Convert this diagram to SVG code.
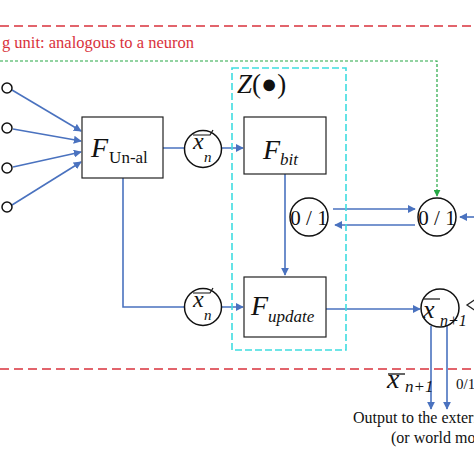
<svg xmlns="http://www.w3.org/2000/svg" width="474" height="474" viewBox="0 0 474 474">
<style>
.red{stroke:#d9323c;stroke-width:1.3;stroke-dasharray:9 5;fill:none}
.cy{stroke:#3fdde0;stroke-width:1.6;stroke-dasharray:7 3;fill:none}
.gr{stroke:#26a845;stroke-width:1.2;stroke-dasharray:3 2;fill:none}
.bl{stroke:#4a72bf;stroke-width:1.6;fill:none}
.box{fill:#fff;stroke:#222;stroke-width:1.2}
.cir{fill:#fff;stroke:#111;stroke-width:1.5}
.t{font-family:"Liberation Serif","DejaVu Serif","Times New Roman",serif;fill:#111}
.i{font-style:italic}
</style>
<defs>
<marker id="ab" viewBox="0 0 10 10" refX="9" refY="5" markerWidth="8" markerHeight="8" markerUnits="userSpaceOnUse" orient="auto"><path d="M0,0 L10,5 L0,10 z" fill="#4a72bf"/></marker>
<marker id="ag" viewBox="0 0 10 10" refX="9" refY="5" markerWidth="7" markerHeight="7" markerUnits="userSpaceOnUse" orient="auto"><path d="M0,0 L10,5 L0,10 z" fill="#26a845"/></marker>
</defs>
<rect width="474" height="474" fill="#fff"/>
<line class="red" x1="0" y1="26" x2="474" y2="26"/>
<line class="red" x1="0" y1="369" x2="474" y2="369"/>
<text class="t" x="194" y="48" font-size="16.5" text-anchor="end" style="fill:#d9323c">g unit: analogous to a neuron</text>
<g id="connectors">
<polyline class="gr" points="0,61 437,61 437,196" marker-end="url(#ag)"/>
<line class="bl" x1="12" y1="90" x2="81" y2="131" marker-end="url(#ab)"/>
<line class="bl" x1="13" y1="129" x2="81" y2="141" marker-end="url(#ab)"/>
<line class="bl" x1="13" y1="167" x2="81" y2="152" marker-end="url(#ab)"/>
<line class="bl" x1="12" y1="205" x2="81" y2="162" marker-end="url(#ab)"/>
<line class="bl" x1="163" y1="148" x2="243" y2="148" marker-end="url(#ab)"/>
<polyline class="bl" points="123,178 123,307 243,307" marker-end="url(#ab)"/>
<line class="bl" x1="285" y1="174" x2="285" y2="275" marker-end="url(#ab)"/>
<line class="bl" x1="333" y1="209" x2="415" y2="209" marker-end="url(#ab)"/>
<line class="bl" x1="415" y1="225" x2="335" y2="225" marker-end="url(#ab)"/>
<line class="bl" x1="480" y1="217" x2="460" y2="217" marker-end="url(#ab)"/>
<line class="bl" x1="326" y1="309" x2="420" y2="309" marker-end="url(#ab)"/>
<polyline fill="none" stroke="#222" stroke-width="1.3" points="476,299 467,305 476,311"/>
<line class="bl" x1="431" y1="326" x2="431" y2="409" marker-end="url(#ab)"/>
<line class="bl" x1="447" y1="326" x2="447" y2="409" marker-end="url(#ab)"/>
</g>
<g id="inputs">
<circle cx="7" cy="88" r="5" fill="#fff" stroke="#111" stroke-width="1.5"/>
<circle cx="7" cy="128" r="5" fill="#fff" stroke="#111" stroke-width="1.5"/>
<circle cx="7" cy="168" r="5" fill="#fff" stroke="#111" stroke-width="1.5"/>
<circle cx="7" cy="207" r="5" fill="#fff" stroke="#111" stroke-width="1.5"/>
</g>
<g id="Z">
<rect class="cy" x="232" y="68" width="114" height="282"/>
<text class="t" x="237" y="93" font-size="27"><tspan class="i">Z</tspan>(●)</text>
</g>
<g id="F_unal">
<rect class="box" x="82" y="117" width="81" height="61"/>
<text class="t" x="91" y="157" font-size="28"><tspan class="i">F</tspan><tspan font-size="17" dx="1" dy="6">Un-al</tspan></text>
</g>
<g id="F_bit">
<rect class="box" x="244" y="117" width="82" height="57"/>
<text class="t i" x="263" y="159" font-size="28">F<tspan font-size="17" dy="6">bit</tspan></text>
</g>
<g id="F_update">
<rect class="box" x="244" y="277" width="82" height="60"/>
<text class="t i" x="251" y="315" font-size="28">F<tspan font-size="17" dy="7">update</tspan></text>
</g>
<g id="xn_top">
<circle class="cir" cx="203" cy="149" r="18.5"/>
<text class="t i" x="193" y="149" font-size="24">x</text>
<text class="t i" x="204" y="162" font-size="15">n</text>
<polyline fill="none" stroke="#111" stroke-width="1.2" points="193,135 210,135 213,130"/>
</g>
<g id="xn_bottom">
<circle class="cir" cx="203" cy="307" r="18.5"/>
<text class="t i" x="193" y="307" font-size="24">x</text>
<text class="t i" x="204" y="320" font-size="15">n</text>
<polyline fill="none" stroke="#111" stroke-width="1.2" points="193,293 210,293 213,288"/>
</g>
<g id="b01_left">
<circle class="cir" cx="309" cy="217" r="19"/>
<text class="t" x="309" y="225" font-size="21" text-anchor="middle">0 / 1</text>
</g>
<g id="b01_right">
<circle class="cir" cx="437" cy="217" r="19"/>
<text class="t" x="437" y="225" font-size="21" text-anchor="middle">0 / 1</text>
</g>
<g id="xn1">
<circle class="cir" cx="440" cy="308" r="19"/>
<text class="t i" x="423" y="318" font-size="26">x</text>
<line x1="424" y1="299" x2="440" y2="299" stroke="#111" stroke-width="1.2"/>
<text class="t i" x="440" y="326" font-size="16">n+1</text>
</g>
<g id="output">
<text class="t i" x="387" y="388" font-size="28">x</text>
<line x1="388" y1="374" x2="405" y2="374" stroke="#111" stroke-width="1.3"/>
<text class="t i" x="405" y="392" font-size="17">n+1</text>
<text class="t" x="456" y="389" font-size="15">0/1</text>
<text class="t" x="353" y="423" font-size="16">Output to the external</text>
<text class="t" x="391" y="443" font-size="16">(or world model)</text>
</g>
</svg>
